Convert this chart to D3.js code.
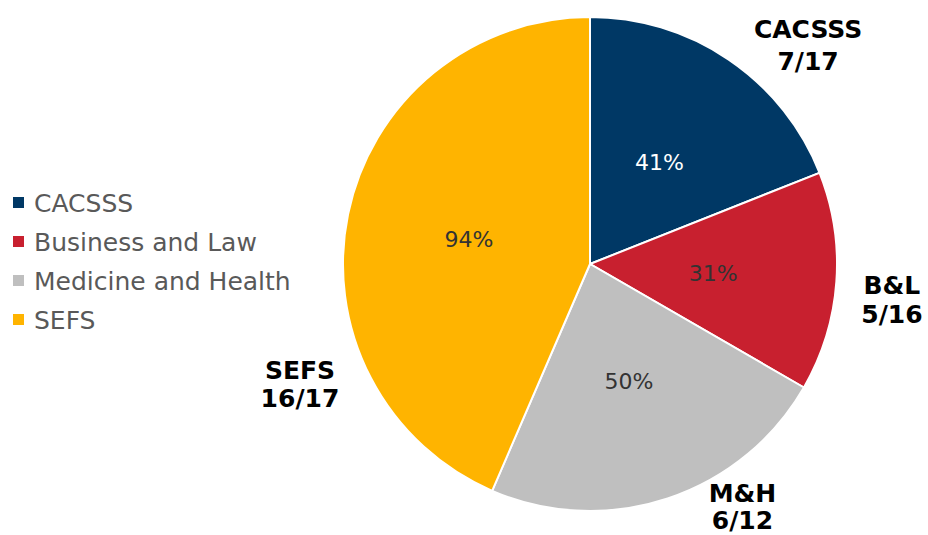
<!DOCTYPE html>
<head>
   <meta charset="utf-8">
   <script src="https://d3js.org/d3.v7.min.js"></script>
   <style>
   body{ margin: 0; background: #fff; }
   text{ font-family: "DejaVu Sans", Verdana, sans-serif; }
   text.legend{ font-size: 25px; fill: #595959; }
   text.pct{ font-size: 22px; }
   text.outer{ font-size: 25px; font-weight: 700; fill: #000; }
   </style>
</head>
<body>
<script>
const width = 928;
const height = 535;

// data
const faculties = ["CACSSS", "Business and Law", "Medicine and Health", "SEFS"];
const shortNames = ["CACSSS", "B&L", "M&H", "SEFS"];
const percents = [41, 31, 50, 94];
const fractions = ["7/17", "5/16", "6/12", "16/17"];
const colours = ["#003865", "#C8202F", "#BFBFBF", "#FFB400"];
const pctColours = ["#ffffff", "#333333", "#333333", "#333333"];

// layout nudges for the outside labels (excel-ish placement)
const outerShift = [[0.187, 4], [0.045, -1], [-0.24, -18], [-0.597, 9]]; // [angle rad, radius px]
const outerGap = [32, 29, 27, 28];

const cx = 590, cy = 264, r = 247;

const svg = d3.select("body").append("svg")
   .attr("width", width)
   .attr("height", height);

const rows = faculties.map((f, i) => ({
   name: f, short: shortNames[i], value: percents[i],
   frac: fractions[i], colour: colours[i], pctColour: pctColours[i], i: i
}));

const pie = d3.pie().sort(null).value(d => d.value);
const arcs = pie(rows);

const arc = d3.arc().innerRadius(0).outerRadius(r);

const g = svg.append("g").attr("transform", `translate(${cx},${cy})`);

g.selectAll("path.slice")
   .data(arcs)
   .enter()
   .append("path")
   .attr("class", "slice")
   .attr("d", arc)
   .style("fill", d => d.data.colour)
   .style("stroke", "#fff")
   .style("stroke-width", 2);

g.selectAll("text.pct")
   .data(arcs)
   .enter()
   .append("text")
   .attr("class", "pct")
   .attr("x", d => arc.centroid(d)[0])
   .attr("y", d => arc.centroid(d)[1])
   .attr("dy", "0.35em")
   .style("text-anchor", "middle")
   .style("fill", d => d.data.pctColour)
   .text(d => d.data.value + "%");

// outside labels
const outer = g.selectAll("g.outer")
   .data(arcs)
   .enter()
   .append("g")
   .attr("class", "outer")
   .attr("transform", d => {
      const s = outerShift[d.index];
      const a = (d.startAngle + d.endAngle) / 2 + s[0];
      const rr = 305 + s[1];
      return `translate(${rr * Math.sin(a)},${-rr * Math.cos(a)})`;
   });

outer.append("text")
   .attr("class", "outer")
   .attr("y", d => -outerGap[d.index] / 2)
   .attr("dy", "0.35em")
   .style("text-anchor", "middle")
   .text(d => d.data.short);

outer.append("text")
   .attr("class", "outer")
   .attr("y", d => outerGap[d.index] / 2)
   .attr("dy", "0.35em")
   .style("text-anchor", "middle")
   .text(d => d.data.frac);

// legend
const legendY = d3.scalePoint()
   .domain(faculties)
   .range([203, 320]);

const legend = svg.selectAll("g.legendRow")
   .data(rows)
   .enter()
   .append("g")
   .attr("class", "legendRow")
   .attr("transform", d => `translate(13,${legendY(d.name)})`);

legend.append("rect")
   .attr("x", 0)
   .attr("y", -6)
   .attr("width", 11)
   .attr("height", 11)
   .style("fill", d => d.colour);

legend.append("text")
   .attr("class", "legend")
   .attr("x", 21)
   .attr("dy", "0.35em")
   .text(d => d.name);
</script>
</body>
